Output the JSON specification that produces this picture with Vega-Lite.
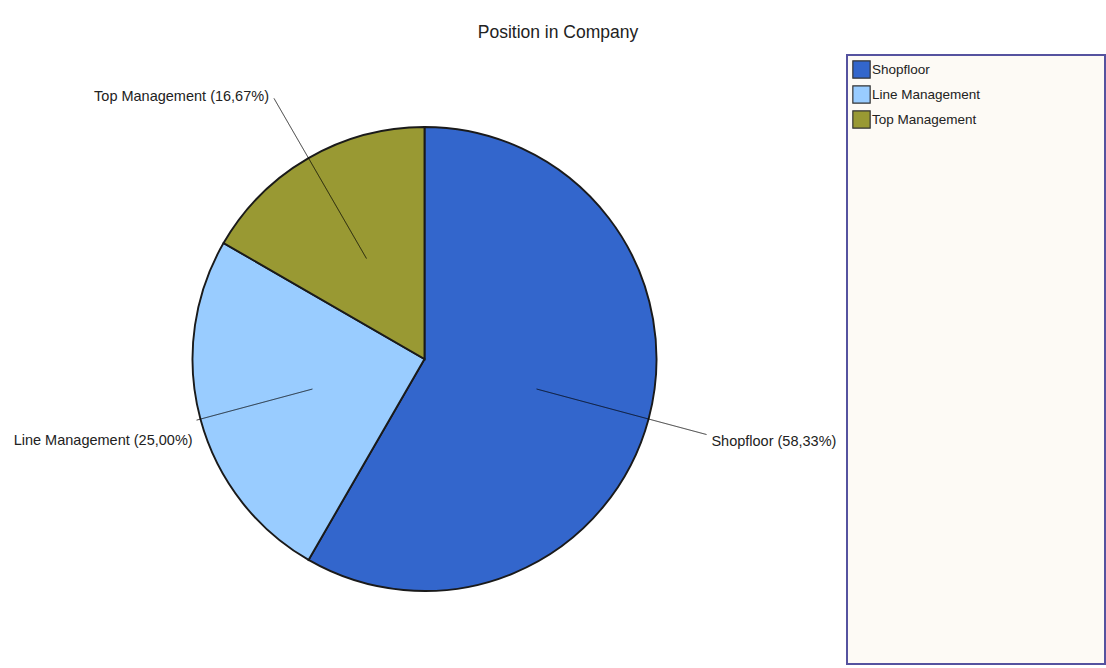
{
  "$schema": "https://vega.github.io/schema/vega-lite/v6.json",
  "padding": {"left": 10, "top": 23, "right": 0, "bottom": 0},
  "background": "white",
  "title": {"text": "Position in Company", "font": "Liberation Sans", "fontSize": 17.5, "fontWeight": "normal", "color": "#222222", "anchor": "middle", "offset": 13},
  "data": {"values": [
    {"position": "Shopfloor", "percent": 58.33, "rank": 1, "label": "Shopfloor (58,33%)"},
    {"position": "Line Management", "percent": 25.00, "rank": 2, "label": "Line Management (25,00%)"},
    {"position": "Top Management", "percent": 16.67, "rank": 3, "label": "Top Management (16,67%)"}
  ]},
  "spacing": 7,
  "hconcat": [
    {
      "width": 829,
      "height": 608,
      "transform": [
        {"stack": "percent", "groupby": [], "sort": [{"field": "rank", "order": "ascending"}], "as": ["v0", "v1"]},
        {"fold": ["v0", "v1"], "as": ["k", "v"]},
        {"aggregate": [
          {"op": "mean", "field": "v", "as": "mid"},
          {"op": "min", "field": "v", "as": "start"},
          {"op": "max", "field": "v", "as": "end"}
        ], "groupby": ["position", "label", "rank"]}
      ],
      "layer": [
        {
          "mark": {"type": "arc", "outerRadius": 232, "stroke": "#1a1a1a", "strokeWidth": 1.9},
          "encoding": {
            "theta": {"field": "start", "type": "quantitative", "stack": null, "scale": {"domain": [0, 100]}},
            "theta2": {"field": "end"},
            "color": {"field": "position", "type": "nominal",
              "scale": {"domain": ["Shopfloor", "Line Management", "Top Management"], "range": ["#3366cc", "#99ccff", "#999933"]},
              "legend": null}
          }
        },
        {
          "transform": [{"filter": "datum.position === 'Shopfloor'"}],
          "mark": {"type": "arc", "filled": false, "stroke": "#000000", "strokeOpacity": 0.4, "strokeWidth": 1, "innerRadius": 116, "outerRadius": 292},
          "encoding": {
            "theta": {"field": "mid", "type": "quantitative", "stack": null, "scale": {"domain": [0, 100]}},
            "theta2": {"field": "mid"}
          }
        },
        {
          "transform": [{"filter": "datum.position === 'Line Management'"}],
          "mark": {"type": "arc", "filled": false, "stroke": "#000000", "strokeOpacity": 0.4, "strokeWidth": 1, "innerRadius": 116, "outerRadius": 236},
          "encoding": {
            "theta": {"field": "mid", "type": "quantitative", "stack": null, "scale": {"domain": [0, 100]}},
            "theta2": {"field": "mid"}
          }
        },
        {
          "transform": [{"filter": "datum.position === 'Top Management'"}],
          "mark": {"type": "arc", "filled": false, "stroke": "#000000", "strokeOpacity": 0.4, "strokeWidth": 1, "innerRadius": 116, "outerRadius": 301},
          "encoding": {
            "theta": {"field": "mid", "type": "quantitative", "stack": null, "scale": {"domain": [0, 100]}},
            "theta2": {"field": "mid"}
          }
        },
        {
          "transform": [{"filter": "datum.position === 'Shopfloor'"}],
          "mark": {"type": "text", "radius": 296, "align": "left", "baseline": "middle", "dx": 1, "dy": 6, "font": "Liberation Sans", "fontSize": 14.5, "color": "#222222"},
          "encoding": {
            "theta": {"field": "mid", "type": "quantitative", "stack": null, "scale": {"domain": [0, 100]}},
            "text": {"field": "label"}
          }
        },
        {
          "transform": [{"filter": "datum.position === 'Line Management'"}],
          "mark": {"type": "text", "radius": 238, "align": "right", "baseline": "middle", "dx": -2, "dy": 20, "font": "Liberation Sans", "fontSize": 14.5, "color": "#222222"},
          "encoding": {
            "theta": {"field": "mid", "type": "quantitative", "stack": null, "scale": {"domain": [0, 100]}},
            "text": {"field": "label"}
          }
        },
        {
          "transform": [{"filter": "datum.position === 'Top Management'"}],
          "mark": {"type": "text", "radius": 303, "align": "right", "baseline": "middle", "dx": -4, "dy": 0, "font": "Liberation Sans", "fontSize": 14.5, "color": "#222222"},
          "encoding": {
            "theta": {"field": "mid", "type": "quantitative", "stack": null, "scale": {"domain": [0, 100]}},
            "text": {"field": "label"}
          }
        }
      ]
    },
    {
      "width": 258,
      "height": 609,
      "view": {"fill": "#fdfaf5", "stroke": "#55529f", "strokeWidth": 2},
      "mark": {"type": "square", "opacity": 0},
      "encoding": {
        "color": {"field": "position", "type": "nominal",
          "scale": {"domain": ["Shopfloor", "Line Management", "Top Management"], "range": ["#3366cc", "#99ccff", "#999933"]},
          "legend": {"orient": "top-left", "title": null, "offset": 5, "padding": 0,
            "symbolType": "square", "symbolSize": 300, "symbolOpacity": 1,
            "symbolStrokeColor": "#333333", "symbolStrokeWidth": 1.2,
            "labelFont": "Liberation Sans", "labelFontSize": 13.5, "labelColor": "#222222",
            "labelOffset": 1, "rowPadding": 2}
        }
      }
    }
  ],
  "resolve": {"scale": {"color": "independent"}, "legend": {"color": "independent"}},
  "config": {"view": {"stroke": null}}
}
